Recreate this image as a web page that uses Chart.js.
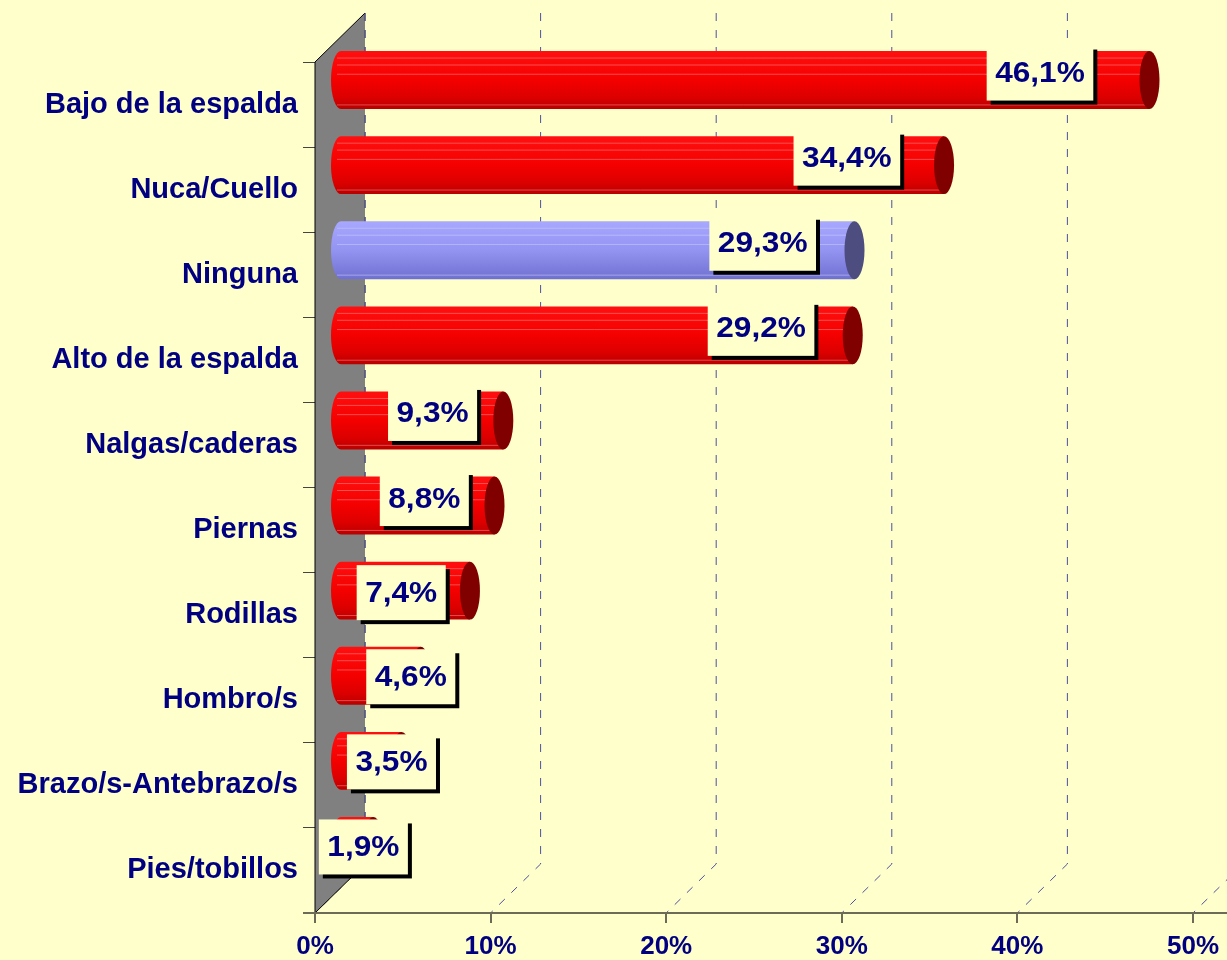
<!DOCTYPE html>
<html>
<head>
<meta charset="utf-8">
<script src="https://cdn.jsdelivr.net/npm/chart.js@4"></script>
<style>
  html, body { margin: 0; padding: 0; background: #ffffcc; }
  #wrap { width: 1227px; height: 960px; }
</style>
</head>
<body>
<div id="wrap"><canvas id="chart" width="1227" height="960"></canvas></div>
<script>
const categories = ['Bajo de la espalda', 'Nuca/Cuello', 'Ninguna', 'Alto de la espalda', 'Nalgas/caderas',
  'Piernas', 'Rodillas', 'Hombro/s', 'Brazo/s-Antebrazo/s', 'Pies/tobillos'];
const values = [46.1, 34.4, 29.3, 29.2, 9.3, 8.8, 7.4, 4.6, 3.5, 1.9];
const xTicks = [0, 10, 20, 30, 40, 50];
const highlight = 'Ninguna';

// depth of the 3d box (back wall offset)
const DX = 50, DY = -49;
const NAVY = '#000080';
const BG = '#ffffcc';
const barPct = 0.68;

function fmt(v) {
  return v.toFixed(1).replace('.', ',') + '%';
}

function barFill(c) {
  const chart = c.chart;
  const blue = categories[c.dataIndex] === highlight;
  const ys = chart.scales.y;
  if (!chart.chartArea || !ys) return blue ? '#9090f0' : '#ee0000';
  const y = ys.getPixelForValue(c.dataIndex);
  const h = ys.height / categories.length * barPct;
  const g = chart.ctx.createLinearGradient(0, y - h / 2, 0, y + h / 2);
  if (blue) {
    g.addColorStop(0, '#a8a8ff');
    g.addColorStop(0.5, '#9393f2');
    g.addColorStop(1, '#7070d0');
  } else {
    g.addColorStop(0, '#ff1010');
    g.addColorStop(0.5, '#f40000');
    g.addColorStop(0.8, '#dc0000');
    g.addColorStop(1, '#b80000');
  }
  return g;
}

const box3d = {
  id: 'box3d',
  beforeDraw(chart) {
    const ctx = chart.ctx;
    ctx.save();
    ctx.fillStyle = BG;
    ctx.fillRect(0, 0, chart.width, chart.height);
    ctx.restore();
  },
  beforeDatasetsDraw(chart) {
    const { ctx, chartArea: a, scales: { x } } = chart;
    const x0 = x.getPixelForValue(0);
    ctx.save();
    // back wall + floor gridlines
    ctx.strokeStyle = '#4f4fa0';
    ctx.lineWidth = 1;
    ctx.setLineDash([8, 9]);
    xTicks.forEach(v => {
      const px = x.getPixelForValue(v);
      ctx.beginPath();
      ctx.moveTo(px + DX, a.top + DY);
      ctx.lineTo(px + DX, a.bottom + DY);
      ctx.lineTo(px, a.bottom);
      ctx.stroke();
    });
    // left wall
    ctx.setLineDash([]);
    ctx.beginPath();
    ctx.moveTo(x0, a.top);
    ctx.lineTo(x0 + DX, a.top + DY);
    ctx.lineTo(x0 + DX, a.bottom + DY);
    ctx.lineTo(x0, a.bottom);
    ctx.closePath();
    ctx.fillStyle = '#808080';
    ctx.fill();
    ctx.strokeStyle = '#000';
    ctx.beginPath();
    ctx.moveTo(x0, a.bottom);
    ctx.lineTo(x0, a.top);
    ctx.lineTo(x0 + DX, a.top + DY);
    ctx.moveTo(x0 + DX, a.bottom + DY);
    ctx.lineTo(x0, a.bottom);
    ctx.stroke();
    ctx.strokeStyle = '#3a3a70';
    ctx.setLineDash([8, 9]);
    ctx.beginPath();
    ctx.moveTo(x0 + DX, a.top + DY);
    ctx.lineTo(x0 + DX, a.bottom + DY);
    ctx.stroke();
    // floor front edge
    ctx.setLineDash([]);
    ctx.strokeStyle = '#6b6b58';
    ctx.lineWidth = 2;
    ctx.beginPath();
    ctx.moveTo(x0 - 12, a.bottom);
    ctx.lineTo(chart.width, a.bottom);
    ctx.stroke();
    ctx.restore();
  },
  beforeDatasetDraw(chart) {
    chart.ctx.save();
    chart.ctx.translate(DX / 2, DY / 2);
  },
  afterDatasetDraw(chart, args) {
    const ctx = chart.ctx;
    args.meta.data.forEach((el, i) => {
      const blue = categories[i] === highlight;
      const r = el.height / 2;
      const rx = 10;
      // rounded start of the cylinder
      ctx.beginPath();
      ctx.ellipse(el.base, el.y, rx, r, 0, Math.PI / 2, Math.PI * 1.5);
      ctx.closePath();
      ctx.fillStyle = el.options.backgroundColor;
      ctx.fill();
      // faint highlight stripes
      ctx.strokeStyle = blue ? 'rgba(200,200,255,0.6)' : 'rgba(255,150,150,0.5)';
      ctx.lineWidth = 1;
      [0.12, 0.24, 0.4, 0.93].forEach(f => {
        const yy = el.y - r + el.height * f;
        ctx.beginPath();
        ctx.moveTo(el.base - 4, yy);
        ctx.lineTo(el.x, yy);
        ctx.stroke();
      });
      // end face
      ctx.beginPath();
      ctx.ellipse(el.x, el.y, rx, r, 0, 0, Math.PI * 2);
      ctx.fillStyle = blue ? '#4d4d80' : '#800000';
      ctx.fill();
    });
    ctx.restore();
  },
  afterDatasetsDraw(chart) {
    const ctx = chart.ctx;
    const meta = chart.getDatasetMeta(0);
    ctx.save();
    meta.data.forEach((el, i) => {
      const len = el.x - el.base;
      const start = el.base + DX / 2;
      const end = el.x + DX / 2;
      let cx, cy = el.y + DY / 2;
      if (len < 100) {
        cx = end - 10;
        cy += 1;
      } else {
        cx = start + 0.94 * len - 61;
        cy += len < 140 ? 2 : -7;
      }
      const text = fmt(values[i]);
      ctx.font = 'bold 29px "Liberation Sans", Arial, sans-serif';
      const sx = 1.09;
      const w = ctx.measureText(text).width * sx + 17;
      const h = 55;
      ctx.fillStyle = '#000';
      ctx.fillRect(cx - w / 2 + 4, cy - h / 2 + 4, w, h);
      ctx.fillStyle = BG;
      ctx.fillRect(cx - w / 2, cy - h / 2, w, h);
      ctx.save();
      ctx.translate(cx, cy + 1);
      ctx.scale(sx, 1);
      ctx.textAlign = 'center';
      ctx.textBaseline = 'middle';
      ctx.fillStyle = NAVY;
      ctx.fillText(text, 0, 0);
      ctx.restore();
    });
    ctx.restore();
  }
};

new Chart(document.getElementById('chart'), {
  type: 'bar',
  data: {
    labels: categories,
    datasets: [{
      data: values,
      backgroundColor: barFill,
      borderWidth: 0,
      barPercentage: barPct,
      categoryPercentage: 1,
      clip: false
    }]
  },
  plugins: [box3d],
  options: {
    indexAxis: 'y',
    responsive: false,
    animation: false,
    layout: { padding: { top: 62, right: 34, left: 0, bottom: 0 } },
    plugins: {
      legend: { display: false },
      tooltip: { enabled: false },
      title: { display: false }
    },
    scales: {
      x: {
        min: xTicks[0],
        max: xTicks[xTicks.length - 1],
        afterFit: s => { s.height = 47; },
        ticks: {
          stepSize: xTicks[1] - xTicks[0],
          autoSkip: false,
          maxRotation: 0,
          padding: 8,
          color: NAVY,
          font: { family: '"Liberation Sans", Arial, sans-serif', size: 26, weight: 'bold' },
          callback: v => v + '%'
        },
        grid: { drawOnChartArea: false, tickLength: 10, color: '#6b6b58', lineWidth: 2 },
        border: { display: true, color: '#6b6b58', width: 2 }
      },
      y: {
        afterFit: s => { s.width = 315; },
        ticks: {
          padding: 5,
          autoSkip: false,
          color: NAVY,
          font: { family: '"Liberation Sans", Arial, sans-serif', size: 29, weight: 'bold' }
        },
        grid: { drawOnChartArea: false, tickLength: 12, color: '#444', lineWidth: 1, offset: true },
        border: { display: true, color: '#000', width: 1 }
      }
    }
  }
});
</script>
</body>
</html>
